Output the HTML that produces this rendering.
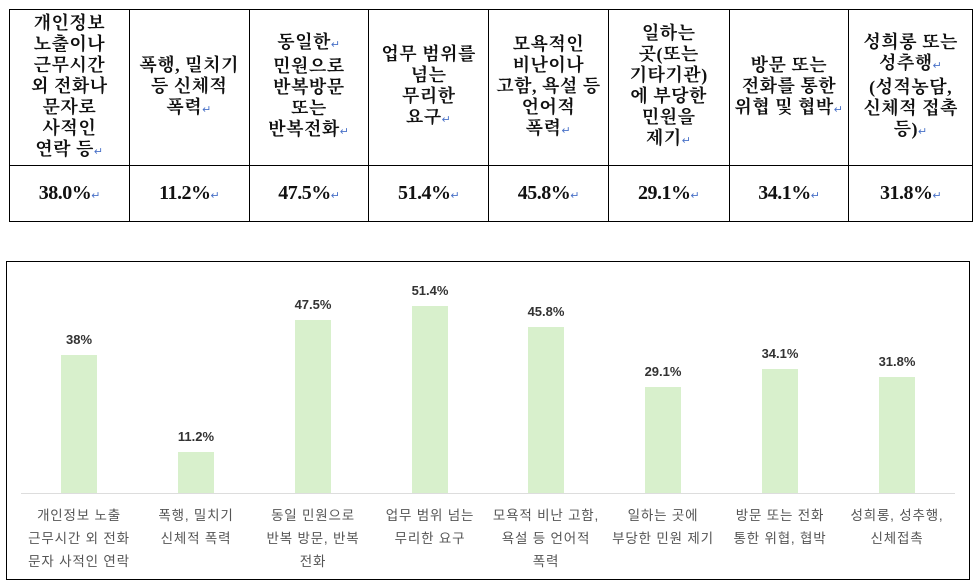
<!DOCTYPE html>
<html><head><meta charset="utf-8"><style>
body{margin:0;width:973px;height:587px;background:#fff;position:relative;overflow:hidden}
table{position:absolute;left:9px;top:9px;border-collapse:collapse;table-layout:fixed}
td{border:1.5px solid #000;text-align:center;padding:0;font-family:"Liberation Serif","Noto Serif CJK KR","Noto Serif CJK SC",serif;font-weight:bold;color:#111}
tr.h td{height:155px;font-size:18px;line-height:21px;vertical-align:middle;letter-spacing:0.5px}
tr.v td{height:55px;font-size:20px;letter-spacing:-0.5px}
.r{color:#4a72c8;font-size:11px;font-weight:normal}
.chart{position:absolute;left:6px;top:261px;width:964px;height:319px;border:1.5px solid #000;box-sizing:border-box}
.bar{position:absolute;width:36px;background:#d8f0cc}
.val{position:absolute;width:80px;text-align:center;font:bold 13px "Liberation Sans","Noto Sans CJK KR",sans-serif;color:#333}
.cat{position:absolute;width:130px;text-align:center;font:13.5px/23px "Liberation Sans","Noto Sans CJK KR",sans-serif;color:#555;top:504px;letter-spacing:0.8px}
.axis{position:absolute;left:21px;width:934px;top:493px;height:1px;background:#ddd}
</style></head><body>
<table>
<colgroup><col style="width:121px"><col style="width:121px"><col style="width:121px"><col style="width:121px"><col style="width:121px"><col style="width:122px"><col style="width:121px"><col style="width:125px"></colgroup>
<tr class="h">
<td>개인정보<br>노출이나<br>근무시간<br>외 전화나<br>문자로<br>사적인<br>연락 등<span class="r">↵</span></td>
<td>폭행, 밀치기<br>등 신체적<br>폭력<span class="r">↵</span></td>
<td>동일한<span class="r">↵</span><br>민원으로<br>반복방문<br>또는<br>반복전화<span class="r">↵</span></td>
<td>업무 범위를<br>넘는<br>무리한<br>요구<span class="r">↵</span></td>
<td>모욕적인<br>비난이나<br>고함, 욕설 등<br>언어적<br>폭력<span class="r">↵</span></td>
<td>일하는<br>곳(또는<br>기타기관)<br>에 부당한<br>민원을<br>제기<span class="r">↵</span></td>
<td>방문 또는<br>전화를 통한<br>위협 및 협박<span class="r">↵</span></td>
<td>성희롱 또는<br>성추행<span class="r">↵</span><br>(성적농담,<br>신체적 접촉<br>등)<span class="r">↵</span></td>
</tr>
<tr class="v">
<td>38.0%<span class="r">↵</span></td><td>11.2%<span class="r">↵</span></td><td>47.5%<span class="r">↵</span></td><td>51.4%<span class="r">↵</span></td><td>45.8%<span class="r">↵</span></td><td>29.1%<span class="r">↵</span></td><td>34.1%<span class="r">↵</span></td><td>31.8%<span class="r">↵</span></td>
</tr>
</table>
<div class="chart"></div>
<div class="axis"></div>

<div class="bar" style="left:61px;top:355px;height:138px"></div><div class="val" style="left:39px;top:332px">38%</div>
<div class="bar" style="left:178px;top:452px;height:41px"></div><div class="val" style="left:156px;top:429px">11.2%</div>
<div class="bar" style="left:295px;top:320px;height:173px"></div><div class="val" style="left:273px;top:297px">47.5%</div>
<div class="bar" style="left:412px;top:306px;height:187px"></div><div class="val" style="left:390px;top:283px">51.4%</div>
<div class="bar" style="left:528px;top:327px;height:166px"></div><div class="val" style="left:506px;top:304px">45.8%</div>
<div class="bar" style="left:645px;top:387px;height:106px"></div><div class="val" style="left:623px;top:364px">29.1%</div>
<div class="bar" style="left:762px;top:369px;height:124px"></div><div class="val" style="left:740px;top:346px">34.1%</div>
<div class="bar" style="left:879px;top:377px;height:116px"></div><div class="val" style="left:857px;top:354px">31.8%</div>

<div class="cat" style="left:14px">개인정보 노출<br>근무시간 외 전화<br>문자 사적인 연락</div>
<div class="cat" style="left:131px">폭행, 밀치기<br>신체적 폭력</div>
<div class="cat" style="left:248px">동일 민원으로<br>반복 방문, 반복<br>전화</div>
<div class="cat" style="left:365px">업무 범위 넘는<br>무리한 요구</div>
<div class="cat" style="left:481px">모욕적 비난 고함,<br>욕설 등 언어적<br>폭력</div>
<div class="cat" style="left:598px">일하는 곳에<br>부당한 민원 제기</div>
<div class="cat" style="left:715px">방문 또는 전화<br>통한 위협, 협박</div>
<div class="cat" style="left:832px">성희롱, 성추행,<br>신체접촉</div>
</body></html>
